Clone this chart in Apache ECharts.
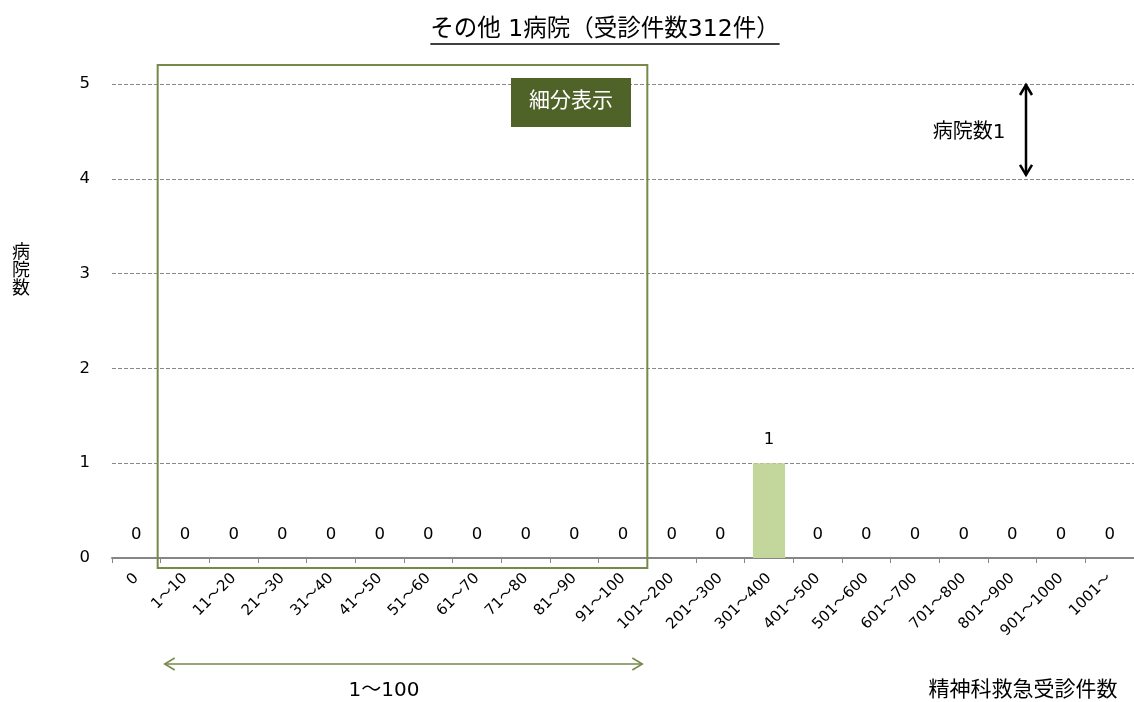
<!DOCTYPE html>
<html><head><meta charset="utf-8">
<script src="https://cdn.jsdelivr.net/npm/echarts@6/dist/echarts.min.js"></script>
<style>html,body{margin:0;padding:0;background:#fff}#c{width:1134px;height:702px}</style>
</head><body><div id="c"></div>
<script>
const categories = ['0','1～10','11～20','21～30','31～40','41～50','51～60','61～70','71～80','81～90','91～100','101～200','201～300','301～400','401～500','501～600','601～700','701～800','801～900','901～1000','1001～'];
const hospitals = [0,0,0,0,0,0,0,0,0,0,0,0,0,1,0,0,0,0,0,0,0];
const yTicks = [0,1,2,3,4,5];
const titleText = 'その他 1病院（受診件数312件）';
const FONT = '"DejaVu Sans", "Noto Sans CJK JP", sans-serif';

const chart = echarts.init(document.getElementById('c'));
chart.setOption({
  animation: false,
  textStyle: {fontFamily: FONT},
  grid: {left: 112, right: 0, top: 84, bottom: 144, containLabel: false},
  xAxis: {
    type: 'category', data: categories,
    axisLine: {lineStyle: {color: '#868686', width: 2}},
    axisTick: {show: true, length: 5, lineStyle: {color: '#868686'}},
    axisLabel: {rotate: 45, fontSize: 15, color: '#000', fontFamily: FONT, margin: 18}
  },
  yAxis: {
    type: 'value', min: yTicks[0], max: yTicks[yTicks.length-1], interval: 1,
    axisLine: {show: false}, axisTick: {show: false},
    axisLabel: {fontSize: 16.5, color: '#000', margin: 22, fontFamily: FONT},
    splitLine: {lineStyle: {type: 'dashed', color: '#888', width: 1}}
  },
  series: [{
    type: 'bar', data: hospitals, barWidth: '66%',
    itemStyle: {color: '#c3d69b'},
    label: {show: true, position: 'top', distance: 15, fontSize: 16.5, color: '#000', fontFamily: FONT}
  }]
});

const X = i => chart.convertToPixel({xAxisIndex: 0}, i);
const Y = v => chart.convertToPixel({yAxisIndex: 0}, v);
const bw = X(1) - X(0);
const boxL = X(1) - bw/2 - 3, boxR = X(10) + bw/2;
const boxT = Y(5) - 19, boxB = Y(0) + 10;
const green = '#76884a';
const arrY = 664;
const ax = 1026;

function chevron(x, y, dir, size, color, w) {
  let pts;
  if (dir === 'l') pts = [[x+size, y-size*0.6],[x, y],[x+size, y+size*0.6]];
  if (dir === 'r') pts = [[x-size, y-size*0.6],[x, y],[x-size, y+size*0.6]];
  if (dir === 'u') pts = [[x-size*0.6, y+size],[x, y],[x+size*0.6, y+size]];
  if (dir === 'd') pts = [[x-size*0.6, y-size],[x, y],[x+size*0.6, y-size]];
  return {type: 'polyline', shape: {points: pts}, style: {stroke: color, lineWidth: w, fill: null}, z: 10};
}

const TFS = 23.5;
const ctx = document.createElement('canvas').getContext('2d');
ctx.font = TFS + 'px ' + FONT;
const tw = ctx.measureText(titleText).width;
const tcx = 605;

chart.setOption({
  graphic: [
    {type: 'text', x: tcx, y: 30, style: {text: titleText, fontSize: TFS, fontFamily: FONT, fill: '#000', align: 'center', verticalAlign: 'middle'}},
    {type: 'line', shape: {x1: tcx - tw/2, y1: 44, x2: tcx + tw/2, y2: 44}, style: {stroke: '#000', lineWidth: 1.5}},
    {type: 'rect', shape: {x: boxL, y: boxT, width: boxR - boxL, height: boxB - boxT}, style: {stroke: green, lineWidth: 2, fill: null}, z: 5},
    {type: 'rect', shape: {x: 511, y: 78, width: 120, height: 49}, style: {fill: '#4f6228'}, z: 6},
    {type: 'text', x: 571, y: 102, style: {text: '細分表示', fontSize: 21, fontFamily: FONT, fill: '#fff', align: 'center', verticalAlign: 'middle'}, z: 7},
    {type: 'line', shape: {x1: boxL + 7, y1: arrY, x2: boxR - 5, y2: arrY}, style: {stroke: green, lineWidth: 1.5}},
    chevron(boxL + 7, arrY, 'l', 10, green, 1.5),
    chevron(boxR - 5, arrY, 'r', 10, green, 1.5),
    {type: 'text', x: 384, y: 691, style: {text: '1〜100', fontSize: 20, fontFamily: FONT, fill: '#000', align: 'center', verticalAlign: 'middle'}},
    {type: 'line', shape: {x1: ax, y1: Y(5) + 1, x2: ax, y2: Y(4) - 4}, style: {stroke: '#000', lineWidth: 2.5}},
    chevron(ax, Y(5) + 1, 'u', 10, '#000', 2.5),
    chevron(ax, Y(4) - 4, 'd', 10, '#000', 2.5),
    {type: 'text', x: 969, y: 133, style: {text: '病院数1', fontSize: 20, fontFamily: FONT, fill: '#000', align: 'center', verticalAlign: 'middle'}},
    {type: 'text', x: 21, y: 271, style: {text: '病\n院\n数', fontSize: 18, fontFamily: FONT, lineHeight: 18, fill: '#000', align: 'center', verticalAlign: 'middle'}},
    {type: 'text', x: 1023, y: 691, style: {text: '精神科救急受診件数', fontSize: 21, fontFamily: FONT, fill: '#000', align: 'center', verticalAlign: 'middle'}}
  ]
});
</script></body></html>
